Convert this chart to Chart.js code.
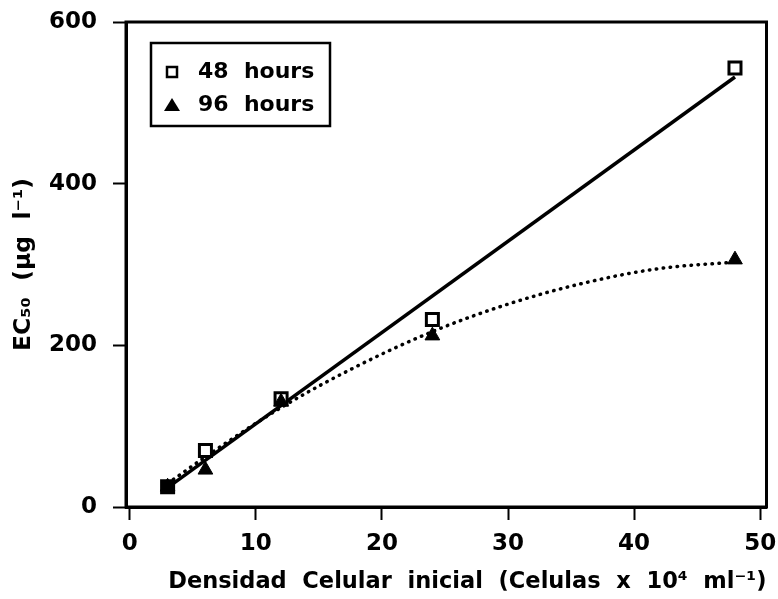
<!DOCTYPE html>
<html>
<head>
<meta charset="utf-8">
<script src="https://cdn.jsdelivr.net/npm/chart.js@4/dist/chart.umd.min.js"></script>
<style>
  html, body { margin: 0; padding: 0; background: #fff; }
  #wrap { width: 778px; height: 599px; }
</style>
</head>
<body>
<div id="wrap"><canvas id="c" width="778" height="599"></canvas></div>
<script>
// Measured EC50 values against initial cell density
const cellDensity = [3, 6, 12, 24, 48];
const ec50At48h = [25, 70, 134, 232, 543];
const ec50At96h = [25, 46, 130, 212, 306];

// Fitted lines: straight fit for 48 h, curved fit for 96 h
const fit48X = [3, 48];
const fit48Y = [24, 532];
const fit96X = [3, 6, 12, 18, 24, 30, 36, 42, 48];
const fit96Y = [29, 62, 123, 174, 217, 251, 277, 295, 303];

// Axis ticks
const xTickValues = [0, 10, 20, 30, 40, 50];
const yTickValues = [0, 200, 400, 600];

const seriesNames = ['48  hours', '96  hours'];
const xTitle = 'Densidad  Celular  inicial  (Celulas  x  10\u2074  ml\u207B\u00B9)';
const yTitle = 'EC\u2085\u2080  (\u00B5g  l\u207B\u00B9)';

const FONT = "'DejaVu Sans', 'Liberation Sans', Arial, sans-serif";
const pts = (xs, ys) => xs.map((x, i) => ({ x: x, y: ys[i] }));

// Box around the plot plus the inset legend
const framePlugin = {
  id: 'frame',
  afterDraw(chart) {
    const { ctx, chartArea: a } = chart;
    ctx.save();
    ctx.strokeStyle = '#000';
    ctx.lineWidth = 3;
    ctx.strokeRect(a.left, a.top, a.right - a.left, a.bottom - a.top);

    // legend box
    const lx = a.left + 25, ly = a.top + 21, lw = 179, lh = 83;
    ctx.lineWidth = 2.5;
    ctx.strokeRect(lx, ly, lw, lh);

    const mx = lx + 21;
    const rows = [ly + 29, ly + 62];
    // open square
    ctx.lineWidth = 2.5;
    ctx.fillStyle = '#fff';
    ctx.fillRect(mx - 5, rows[0] - 5, 10, 10);
    ctx.strokeRect(mx - 5, rows[0] - 5, 10, 10);
    // filled triangle
    ctx.fillStyle = '#000';
    ctx.beginPath();
    ctx.moveTo(mx, rows[1] - 7);
    ctx.lineTo(mx + 8, rows[1] + 6);
    ctx.lineTo(mx - 8, rows[1] + 6);
    ctx.closePath();
    ctx.fill();

    ctx.font = 'bold 22px ' + FONT;
    ctx.textBaseline = 'middle';
    ctx.textAlign = 'left';
    ctx.fillStyle = '#000';
    ctx.fillText(seriesNames[0], lx + 47, rows[0]);
    ctx.fillText(seriesNames[1], lx + 47, rows[1]);
    ctx.restore();
  }
};

new Chart(document.getElementById('c'), {
  type: 'scatter',
  data: {
    datasets: [
      {
        label: seriesNames[1],
        data: pts(cellDensity, ec50At96h),
        showLine: false,
        pointStyle: 'triangle',
        pointRadius: 8.5,
        pointBorderWidth: 1,
        pointBackgroundColor: '#000',
        pointBorderColor: '#000',
        order: 0
      },
      {
        label: seriesNames[0],
        data: pts(cellDensity, ec50At48h),
        showLine: false,
        pointStyle: 'rect',
        pointRadius: 8.5,
        pointBorderWidth: 3,
        pointBackgroundColor: ['#000', '#fff', '#fff', '#fff', '#fff'],
        pointBorderColor: '#000',
        order: 1
      },
      {
        label: 'fit 48',
        data: pts(fit48X, fit48Y),
        showLine: true,
        borderColor: '#000',
        borderWidth: 3.5,
        pointRadius: 0,
        order: 2
      },
      {
        label: 'fit 96',
        data: pts(fit96X, fit96Y),
        showLine: true,
        borderColor: '#000',
        borderWidth: 3.5,
        borderDash: [0.5, 6.5],
        borderCapStyle: 'round',
        cubicInterpolationMode: 'monotone',
        pointRadius: 0,
        order: 3
      }
    ]
  },
  options: {
    responsive: true,
    maintainAspectRatio: false,
    animation: false,
    devicePixelRatio: 1,
    layout: { padding: { top: 22, right: 11, left: 0, bottom: 0 } },
    plugins: {
      legend: { display: false },
      tooltip: { enabled: false }
    },
    scales: {
      x: {
        type: 'linear',
        min: -0.3,
        max: 50.5,
        afterBuildTicks(scale) { scale.ticks = xTickValues.map(v => ({ value: v })); },
        afterFit(scale) {
          scale.height = 92;
          scale.paddingLeft = 0;
          scale.paddingRight = 0;
        },
        border: { display: true, color: '#000', width: 3 },
        grid: { display: true, drawOnChartArea: false, drawTicks: true, tickLength: 13, tickWidth: 2, tickColor: '#000' },
        ticks: { color: '#000', padding: 10, font: { family: FONT, size: 23, weight: 'bold' } },
        title: {
          display: true,
          text: xTitle,
          align: 'end',
          color: '#000',
          padding: { top: 0, bottom: 3 },
          font: { family: FONT, size: 22.5, weight: 'bold' }
        }
      },
      y: {
        type: 'linear',
        min: 0,
        max: 600,
        afterBuildTicks(scale) { scale.ticks = yTickValues.map(v => ({ value: v })); },
        afterFit(scale) {
          scale.width = 126;
          scale.paddingTop = 0;
          scale.paddingBottom = 0;
        },
        border: { display: true, color: '#000', width: 3 },
        grid: { display: true, drawOnChartArea: false, drawTicks: true, tickLength: 13, tickWidth: 2, tickColor: '#000' },
        ticks: { color: '#000', padding: 16, font: { family: FONT, size: 23, weight: 'bold' } },
        title: {
          display: true,
          text: yTitle,
          color: '#000',
          padding: { top: 10, bottom: 0 },
          font: { family: FONT, size: 23.5, weight: 'bold' }
        }
      }
    }
  },
  plugins: [framePlugin]
});
</script>
</body>
</html>
